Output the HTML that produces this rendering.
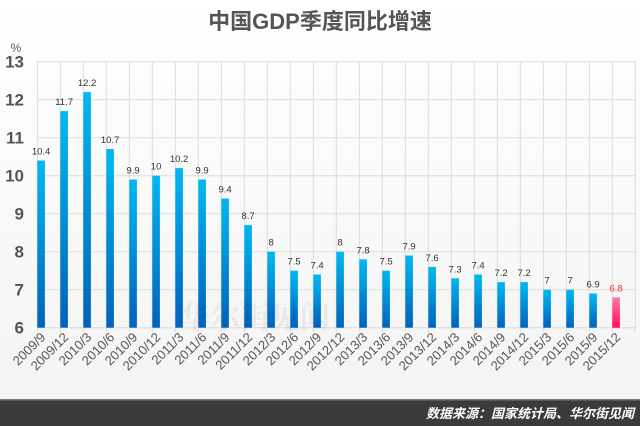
<!DOCTYPE html>
<html><head><meta charset="utf-8"><style>
html,body{margin:0;padding:0;}
body{width:640px;height:426px;overflow:hidden;background:linear-gradient(#ffffff,#f3f3f3);}
svg{display:block;font-family:"Liberation Sans","Noto Sans CJK SC",sans-serif;}
</style></head><body>
<svg width="640" height="426" viewBox="0 0 640 426">
<defs>
<linearGradient id="b" x1="0" y1="0" x2="0" y2="1"><stop offset="0" stop-color="#00b8f2"/><stop offset="1" stop-color="#0062bd"/></linearGradient>
<linearGradient id="p" x1="0" y1="0" x2="0" y2="1"><stop offset="0" stop-color="#ff7aa0"/><stop offset="1" stop-color="#ff0a5e"/></linearGradient>
</defs>
<text x="320" y="29" text-anchor="middle" font-size="22" font-weight="bold" fill="#555">中国GDP季度同比增速</text>
<text x="16" y="52" text-anchor="middle" font-size="12" fill="#555">%</text>
<g id="grid"></g>
<g id="bars"></g>
<text x="255" y="328" text-anchor="middle" font-size="30" font-weight="bold" fill="#000" fill-opacity="0.05" font-family="'Noto Serif CJK SC',serif">华尔街见闻</text>
<rect x="0" y="400" width="640" height="26" fill="#3b3b3b"/>
<rect x="0" y="399" width="640" height="1.5" fill="#777"/>
<text x="634" y="418" text-anchor="end" font-size="13" font-weight="bold" font-style="italic" fill="#fff">数据来源：国家统计局、华尔街见闻</text>
</svg>
<script>
var v=[10.4,11.7,12.2,10.7,9.9,10,10.2,9.9,9.4,8.7,8,7.5,7.4,8,7.8,7.5,7.9,7.6,7.3,7.4,7.2,7.2,7,7,6.9,6.8];
var l=["2009/9","2009/12","2010/3","2010/6","2010/9","2010/12","2011/3","2011/6","2011/9","2011/12","2012/3","2012/6","2012/9","2012/12","2013/3","2013/6","2013/9","2013/12","2014/3","2014/6","2014/9","2014/12","2015/3","2015/6","2015/9","2015/12"];
function y(a){return 327.7-(a-6)*38;}
var g='',b='';
for(var k=6;k<=13;k++){g+='<line x1="37" x2="636" y1="'+y(k)+'" y2="'+y(k)+'" stroke="#dcdcdc" stroke-width="1"/>';
g+='<text x="24" y="'+(y(k)+6)+'" text-anchor="end" font-size="17" font-weight="bold" fill="#555">'+k+'</text>';}
for(var i=0;i<=26;i++){var x=37.3+i*23;g+='<line x1="'+x+'" x2="'+x+'" y1="'+y(13)+'" y2="332" stroke="#dcdcdc" stroke-width="1"/>';}
for(var i=0;i<26;i++){var x=37.3+i*23,t=y(v[i]),last=i==25;
b+='<rect x="'+x+'" y="'+t+'" width="7.6" height="'+(327.7-t)+'" fill="url(#'+(last?'p':'b')+')"/>';
b+='<text x="'+(x+3.8)+'" y="'+(t-6)+'" text-anchor="middle" font-size="9.5" fill="'+(last?'#ff2a2a':'#333')+'">'+v[i]+'</text>';
var cx=x+9,cy=338;
b+='<text transform="translate('+cx+','+cy+') rotate(-45)" text-anchor="end" font-size="13" fill="#555">'+l[i]+'</text>';}
document.getElementById('grid').innerHTML=g;document.getElementById('bars').innerHTML=b;
</script>
</body></html>
